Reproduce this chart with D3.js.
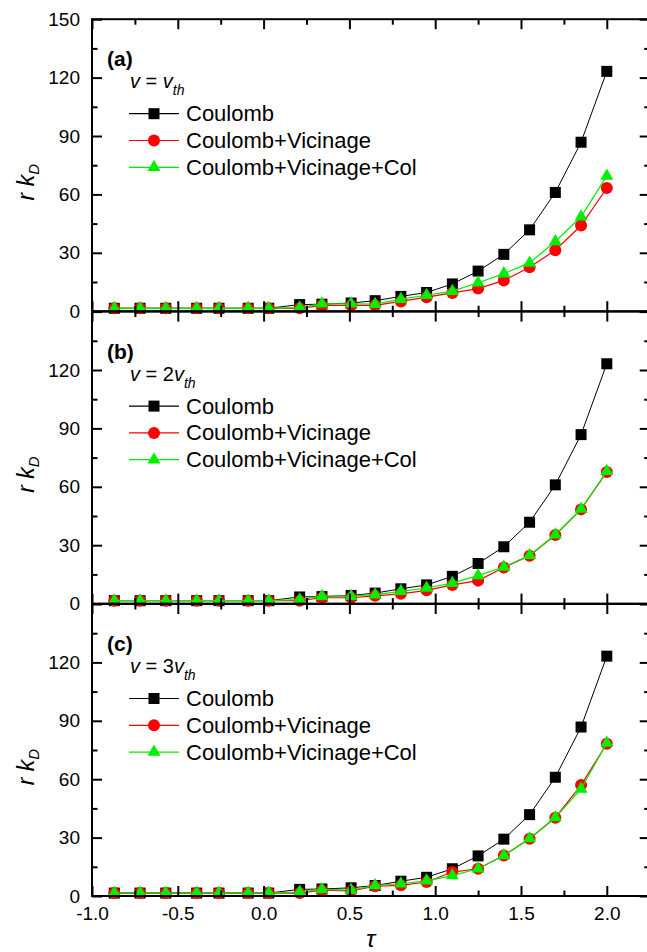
<!DOCTYPE html>
<html lang="en">
<head>
<meta charset="UTF-8">
<script src="https://d3js.org/d3.v7.min.js"></script>
<style>
  body { margin: 0; background: #fff; }
  svg { display: block; }
  text { font-family: "Liberation Sans", Arial, sans-serif; }
</style>
</head>
<body>
<div id="plot"></div>
<script>
// tau values shared by all series
const tau = [-0.87, -0.72, -0.57, -0.39, -0.26, -0.09, 0.03, 0.21, 0.34, 0.51,
             0.65, 0.80, 0.95, 1.10, 1.25, 1.40, 1.55, 1.70, 1.85, 2.00];

// Coulomb only (same in every panel)
const coulomb = [1.5, 1.5, 1.5, 1.5, 1.5, 1.5, 1.5, 3.4, 3.6, 4.2,
                 5.4, 7.6, 9.6, 14.0, 20.6, 29.2, 41.8, 61.0, 86.8, 123.2];

// panel (a) v = v_th
const vicA = [1.5, 1.5, 1.5, 1.5, 1.5, 1.5, 1.5, 1.5, 3.0, 3.0,
              3.0, 5.0, 7.2, 9.4, 11.6, 15.8, 22.6, 31.3, 44.0, 63.3];
const colA = [1.5, 1.5, 1.5, 1.5, 1.5, 1.5, 1.5, 1.8, 3.8, 3.8,
              3.6, 6.2, 8.2, 10.3, 14.6, 19.3, 24.8, 35.8, 48.5, 69.5];

// panel (b) v = 2v_th
const vicB = [1.5, 1.5, 1.5, 1.5, 1.5, 1.5, 1.5, 1.5, 3.0, 3.0,
              4.0, 5.0, 6.8, 9.6, 11.8, 18.5, 24.6, 35.2, 48.4, 67.6];
const colB = [1.5, 1.5, 1.5, 1.5, 1.5, 1.5, 1.5, 2.0, 3.8, 3.8,
              4.6, 6.3, 8.0, 10.5, 14.4, 18.8, 24.8, 35.4, 48.6, 68.0];

// panel (c) v = 3v_th
const vicC = [1.5, 1.5, 1.5, 1.5, 1.5, 1.5, 1.5, 1.5, 3.0, 2.6,
              5.0, 5.5, 7.2, 12.3, 14.0, 20.8, 29.4, 40.2, 57.0, 78.2];
const colC = [1.5, 1.5, 1.5, 1.5, 1.5, 1.5, 1.5, 2.0, 3.4, 3.0,
              5.4, 6.3, 7.8, 10.5, 14.0, 20.8, 29.5, 40.3, 55.0, 78.6];

const panelNames = ["(a)", "(b)", "(c)"];
const speedFactor = ["", "2", "3"];
const seriesNames = ["Coulomb", "Coulomb+Vicinage", "Coulomb+Vicinage+Col"];
const seriesColors = ["#000000", "#ff0000", "#00ee00"];

const xMajor = [-1.0, -0.5, 0.0, 0.5, 1.0, 1.5, 2.0];
const xMinor = [-0.75, -0.25, 0.25, 0.75, 1.25, 1.75];
const yMajor = [0, 30, 60, 90, 120, 150];
const yMinor = [15, 45, 75, 105, 135];

const width = 647, height = 952;
const left = 92;
const panelTops = [19.2, 311.6, 604.0];
const panelH = 292.0;

const x = d3.scaleLinear().domain([-1.0, 2.25]).range([left, left + 3.25 * 171.6]);
const right = x(2.25);

const svg = d3.select('#plot').append('svg')
    .attr('width', width)
    .attr('height', height);

const panelData = [
  [coulomb, vicA, colA],
  [coulomb, vicB, colB],
  [coulomb, vicC, colC]
];

function marker(g, kind, cx, cy, color) {
  if (kind === 0) {
    g.append('rect')
        .attr('x', cx - 5.5).attr('y', cy - 5.5)
        .attr('width', 11).attr('height', 11)
        .attr('fill', color);
  } else if (kind === 1) {
    g.append('circle')
        .attr('cx', cx).attr('cy', cy).attr('r', 6)
        .attr('fill', color);
  } else {
    const s = 13, h = s * Math.sqrt(3) / 2;
    g.append('path')
        .attr('d', `M${cx},${cy - 2 * h / 3}L${cx + s / 2},${cy + h / 3}L${cx - s / 2},${cy + h / 3}Z`)
        .attr('fill', color);
  }
}

const fmtX = d => d3.format('.1f')(d).replace('\u2212', '-');

panelTops.forEach((top, p) => {
  const bottom = top + panelH;
  const y = d3.scaleLinear().domain([0, 150]).range([bottom, top]);
  const g = svg.append('g');

  // series lines and markers
  panelData[p].forEach((vals, s) => {
    const pts = tau.map((t, i) => [x(t), y(vals[i])]);
    g.append('path')
        .attr('d', d3.line()(pts))
        .attr('fill', 'none')
        .attr('stroke', seriesColors[s])
        .attr('stroke-width', s === 0 ? 1 : 1.2);
    const mg = g.append('g');
    pts.forEach(d => marker(mg, s, d[0], d[1], seriesColors[s]));
  });

  // axes: ticks pointing inward
  const yLabels = p === 0 ? yMajor : yMajor.slice(0, 5);
  g.append('g').attr('transform', `translate(${left},0)`)
      .call(d3.axisLeft(y).tickValues(yMajor).tickSize(-10).tickSizeOuter(0).tickPadding(12)
        .tickFormat(d => yLabels.includes(d) ? d : ''));
  g.append('g').attr('transform', `translate(${left},0)`)
      .call(d3.axisLeft(y).tickValues(yMinor).tickSize(-5.5).tickSizeOuter(0).tickFormat(''));
  g.append('g').attr('transform', `translate(${right},0)`)
      .call(d3.axisRight(y).tickValues(yMajor).tickSize(-10).tickSizeOuter(0).tickFormat(''));
  g.append('g').attr('transform', `translate(${right},0)`)
      .call(d3.axisRight(y).tickValues(yMinor).tickSize(-5.5).tickSizeOuter(0).tickFormat(''));

  g.append('g').attr('transform', `translate(0,${bottom})`)
      .call(d3.axisBottom(x).tickValues(xMajor).tickSize(-10).tickSizeOuter(0).tickPadding(11)
        .tickFormat(p === 2 ? fmtX : () => ''));
  g.append('g').attr('transform', `translate(0,${bottom})`)
      .call(d3.axisBottom(x).tickValues(xMinor).tickSize(-5.5).tickSizeOuter(0).tickFormat(''));
  g.append('g').attr('transform', `translate(0,${top})`)
      .call(d3.axisTop(x).tickValues(xMajor).tickSize(-10).tickSizeOuter(0).tickFormat(''));
  g.append('g').attr('transform', `translate(0,${top})`)
      .call(d3.axisTop(x).tickValues(xMinor).tickSize(-5.5).tickSizeOuter(0).tickFormat(''));

  g.selectAll('.domain').remove();
  g.selectAll('.tick line').attr('stroke', '#000').attr('stroke-width', 2);
  g.selectAll('.tick text').attr('fill', '#000').attr('font-size', 19)
      .attr('font-family', '"Liberation Sans", Arial, sans-serif');

  g.append('rect')
      .attr('x', left).attr('y', top)
      .attr('width', right - left).attr('height', panelH)
      .attr('fill', 'none').attr('stroke', '#000').attr('stroke-width', 2);

  // panel tag
  g.append('text')
      .attr('x', 107).attr('y', top + 47)
      .attr('font-size', 21).attr('font-weight', 'bold')
      .text(panelNames[p]);

  // speed label
  const sp = g.append('text').attr('x', 130).attr('y', top + 69).attr('font-size', 20);
  sp.append('tspan').attr('font-style', 'italic').text('v');
  sp.append('tspan').text(' = ' + speedFactor[p]);
  sp.append('tspan').attr('font-style', 'italic').text('v');
  sp.append('tspan').attr('font-style', 'italic').attr('font-size', 14).attr('dy', 7).text('th');

  // legend
  seriesNames.forEach((name, s) => {
    const cy = top + 94.5 + s * 26.8;
    g.append('line')
        .attr('x1', 129).attr('x2', 179)
        .attr('y1', cy).attr('y2', cy)
        .attr('stroke', seriesColors[s]).attr('stroke-width', 1.2);
    marker(g, s, 154, cy, seriesColors[s]);
    g.append('text')
        .attr('x', 186).attr('y', cy + 7.5)
        .attr('font-size', 22)
        .text(name);
  });

  // y title
  const yt = g.append('text')
      .attr('transform', `translate(34,${top + panelH / 2 + 17}) rotate(-90)`)
      .attr('text-anchor', 'middle')
      .attr('font-size', 23).attr('font-style', 'italic');
  yt.append('tspan').text('r k');
  yt.append('tspan').attr('font-size', 15).attr('dy', 5).text('D');
});

// x title
svg.append('text')
    .attr('x', (left + right) / 2).attr('y', 947)
    .attr('text-anchor', 'middle')
    .attr('font-size', 24).attr('font-style', 'italic')
    .attr('font-family', '"DejaVu Serif", "Liberation Serif", serif')
    .text('τ');
</script>
</body>
</html>
